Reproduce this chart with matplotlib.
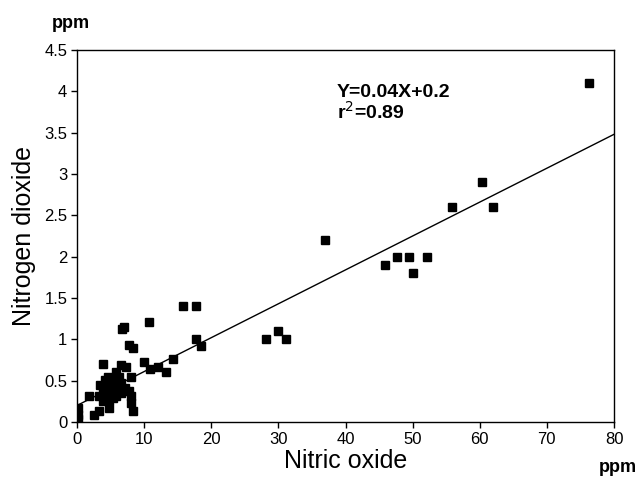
import matplotlib
matplotlib.use("Agg")
import matplotlib.pyplot as plt
import numpy as np

plt.rcParams['font.family'] = ['Liberation Sans', 'DejaVu Sans']

# Nitric oxide (ppm) vs Nitrogen dioxide (ppm)
nitric_oxide = [76.3, 60.3, 55.8, 62.0, 45.9, 47.6, 49.4, 50.0, 52.1, 37.0,
                28.1, 29.9, 31.1, 15.8, 17.8, 17.8, 18.5, 14.3, 12.1, 13.2,
                10.9, 10.7, 10.0, 6.7, 7.0, 7.8, 8.3, 3.8, 7.3, 6.6,
                5.8, 8.1, 4.1, 4.6, 5.1, 5.6, 6.1, 6.6, 7.1, 3.8,
                4.3, 3.3, 5.1, 5.8, 6.6, 7.7, 4.8, 3.9, 5.3, 1.8,
                8.1, 8.1, 8.3, 4.8, 2.6, 3.3, 0.1, 0.1, 0.1, 4.5,
                5.4, 3.5, 6.3]
nitrogen_dioxide = [4.10, 2.90, 2.60, 2.60, 1.90, 2.00, 2.00, 1.80, 2.00, 2.20,
                    1.00, 1.10, 1.00, 1.40, 1.40, 1.00, 0.92, 0.76, 0.67, 0.60,
                    0.64, 1.21, 0.73, 1.13, 1.15, 0.93, 0.89, 0.70, 0.67, 0.69,
                    0.61, 0.55, 0.51, 0.55, 0.47, 0.51, 0.45, 0.47, 0.41, 0.39,
                    0.33, 0.31, 0.37, 0.31, 0.35, 0.37, 0.27, 0.25, 0.29, 0.31,
                    0.31, 0.23, 0.13, 0.17, 0.08, 0.13, 0.17, 0.08, 0.04, 0.42,
                    0.42, 0.45, 0.55]

fit_slope = 0.041
fit_intercept = 0.2

x_ticks = [0, 10, 20, 30, 40, 50, 60, 70, 80]
y_ticks = [0, 0.5, 1, 1.5, 2, 2.5, 3, 3.5, 4, 4.5]
y_tick_labels = ['0', '0.5', '1', '1.5', '2', '2.5', '3', '3.5', '4', '4.5']

fig = plt.figure(figsize=(6.43, 4.79), dpi=100)
ax = fig.add_axes([77/643, 1 - 422/479, (614-77)/643, (422-50)/479])

xl = np.array([0, 80])
ax.plot(xl, fit_intercept + fit_slope * xl, color='black', lw=1.0)
ax.plot(nitric_oxide, nitrogen_dioxide, linestyle='none', marker='s',
        markersize=6.3, color='black')

ax.set_xlim(0, 80)
ax.set_ylim(0, 4.5)
ax.set_xticks(x_ticks)
ax.set_xticklabels([str(t) for t in x_ticks])
ax.set_yticks(y_ticks)
ax.set_yticklabels(y_tick_labels)
ax.tick_params(direction='out', length=4, width=1, labelsize=12, pad=3)
for s in ax.spines.values():
    s.set_linewidth(1.0)

ax.set_xlabel('Nitric oxide', fontsize=18, labelpad=2)
ax.set_ylabel('Nitrogen dioxide', fontsize=18, labelpad=6)

fig.text(71/643, 1 - 23/479, 'ppm', fontsize=13, fontweight='bold',
         ha='center', va='center')
fig.text(618/643, 1 - 468/479, 'ppm', fontsize=13, fontweight='bold',
         ha='center', va='center')

ax.text(0.484, 0.885, 'Y=0.04X+0.2', transform=ax.transAxes, fontsize=14,
        fontweight='bold', ha='left', va='center')
ax.text(0.484, 0.834, 'r$^2$=0.89', transform=ax.transAxes, fontsize=14,
        fontweight='bold', ha='left', va='center')

fig.savefig('out.png', dpi=100)
